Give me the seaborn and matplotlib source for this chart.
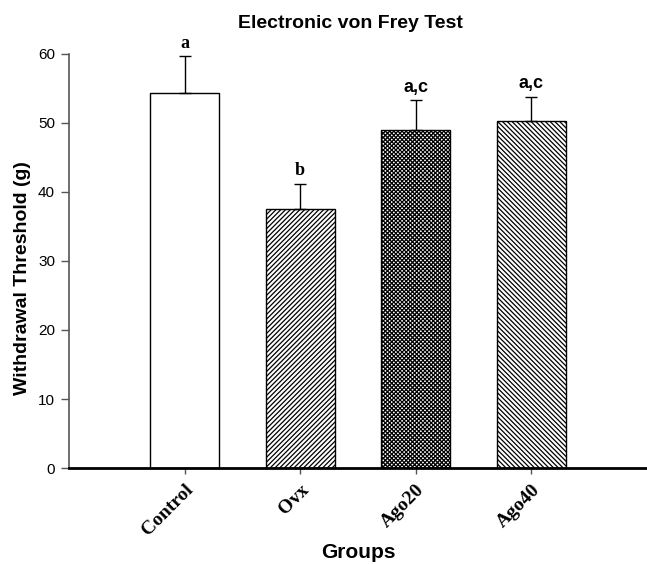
import matplotlib
matplotlib.use("Agg")
import matplotlib.pyplot as plt
import matplotlib.transforms as mtransforms
import seaborn as sns
import pandas as pd

groups = ["Control", "Ovx", "Ago20", "Ago40"]
means = [54.3, 37.6, 49.0, 50.3]
sems = [5.4, 3.6, 4.3, 3.5]
letters = ["a", "b", "a,c", "a,c"]
letter_fonts = ["serif", "serif", "sans", "sans"]
hatches = ["", "///////", "xxxxxxxx", "\\\\\\\\\\\\\\"]

sns.set_style("white")
plt.rcParams["hatch.linewidth"] = 0.9
plt.rcParams["font.family"] = ["Liberation Sans", "DejaVu Sans"]
plt.rcParams["text.color"] = "black"
plt.rcParams["axes.labelcolor"] = "black"
plt.rcParams["xtick.color"] = "black"
plt.rcParams["ytick.color"] = "black"

df = pd.DataFrame({"group": groups, "mean": means})

fig = plt.figure(figsize=(6.47, 5.64), dpi=100)
ax = fig.add_axes([0.1066, 0.1702, 0.8934, 0.7341])

sns.barplot(data=df, x="group", y="mean", order=groups, color="white",
            edgecolor="black", linewidth=1.0, width=0.6, ax=ax, errorbar=None)

for bar, h in zip(ax.patches, hatches):
    bar.set_hatch(h)
    bar.set_facecolor("white")
    bar.set_edgecolor("black")

xs = list(range(len(groups)))
ax.errorbar(xs, means, yerr=[[0] * len(sems), sems], fmt="none",
            ecolor="black", elinewidth=1.0, capsize=4.5, capthick=1.0)

for x, m, s, lab, fnt in zip(xs, means, sems, letters, letter_fonts):
    fam = ["Liberation Serif"] if fnt == "serif" else ["Liberation Sans"]
    ax.text(x, m + s + 1.2, lab, ha="center", va="baseline", fontsize=13,
            fontweight="bold", family=fam)

ax.set_xlim(-1.0, 4.0)
ax.set_ylim(0, 60)
ax.set_yticks(range(0, 61, 10))
ax.tick_params(axis="y", left=True, length=6, width=1, color="#555555",
               labelsize=11, pad=4)
ax.tick_params(axis="x", bottom=True, length=4, width=1, color="#555555", pad=10)
ax.set_xticks(xs)
ax.set_xticklabels(groups, rotation=45, ha="right", va="center",
                   rotation_mode="anchor", fontsize=14, fontweight="bold",
                   family=["Liberation Serif"])
shift = mtransforms.ScaledTranslation(6 / 100, 0, fig.dpi_scale_trans)
for lbl in ax.get_xticklabels():
    lbl.set_transform(lbl.get_transform() + shift)

for side in ["top", "right"]:
    ax.spines[side].set_visible(False)
ax.spines["left"].set_color("#555555")
ax.spines["left"].set_linewidth(1.2)
ax.spines["bottom"].set_color("black")
ax.spines["bottom"].set_linewidth(2.0)

ax.set_ylabel("Withdrawal Threshold (g)", fontsize=14, fontweight="bold")
ax.yaxis.label.set_verticalalignment("center")
ax.yaxis.set_label_coords(-0.081, 0.459)
ax.set_xlabel("Groups", fontsize=15, fontweight="bold")
ax.xaxis.label.set_verticalalignment("center")
ax.xaxis.set_label_coords(0.5, -0.205)

fig.text(350 / 647, 1 - 23 / 564, "Electronic von Frey Test", ha="center",
         va="center", fontsize=14, fontweight="bold")

fig.savefig("out.png", dpi=100)
